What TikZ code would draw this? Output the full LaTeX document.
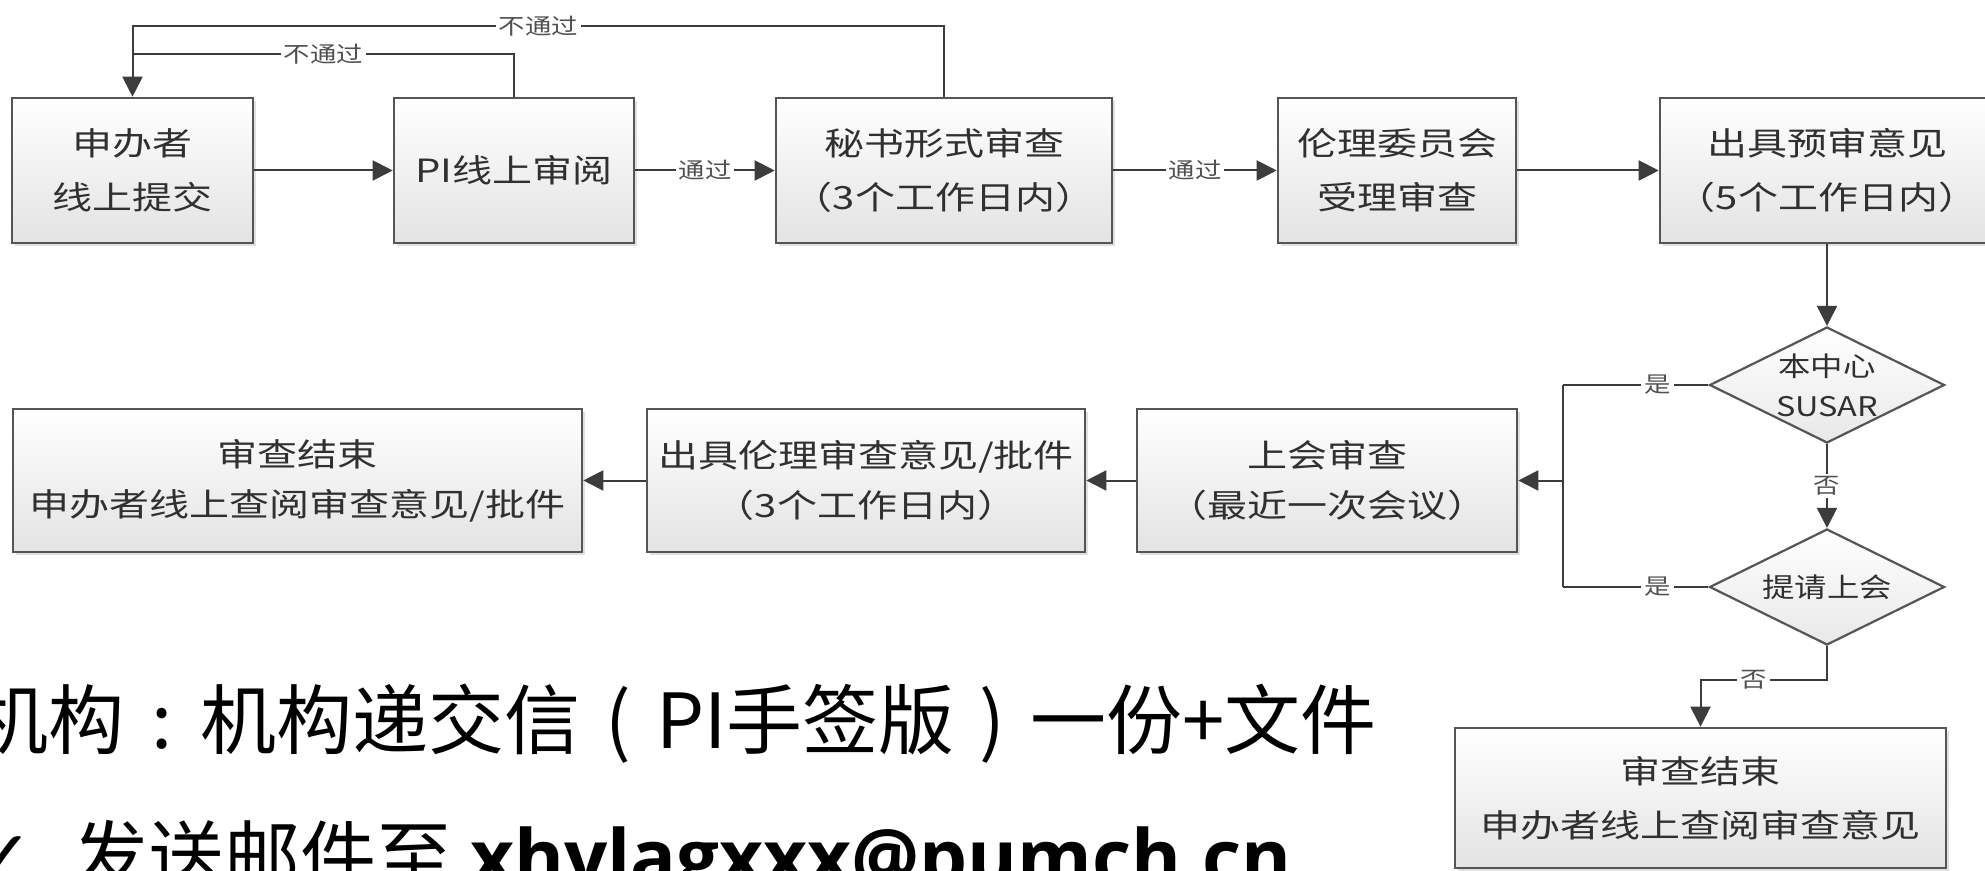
\documentclass[tikz,border=0pt]{standalone}
\usepackage{fontspec}
\usepackage{graphicx}
\usetikzlibrary{arrows.meta,shapes.geometric,shadows,calc}
\newfontfamily\cjk{Noto Sans CJK SC}
\newfontfamily\osans{Open Sans}
\newfontfamily\dejavu{DejaVu Sans}
\newcommand{\hs}[1]{\scalebox{1.25}[1]{#1}}
\newcommand{\ls}[1]{\scalebox{1.2}[1]{#1}}
\newcommand{\cpunct}[1]{\makebox[1em][c]{#1}}
\definecolor{linec}{HTML}{3C3C3C}
\definecolor{boxc}{HTML}{555555}
\definecolor{txtc}{HTML}{303030}
\definecolor{lblc}{HTML}{505050}
\begin{document}
\begin{tikzpicture}[x=0.5pt,y=-0.5pt,
  box/.style={rectangle, draw=boxc, line width=1.3pt, top color=white, bottom color=black!11,
    drop shadow={shadow xshift=1.5pt, shadow yshift=-1.5pt, fill=black!30, opacity=0.4},
    inner sep=0pt, minimum height=72.5pt, align=center, text=txtc,
    font=\cjk\fontsize{16}{27}\selectfont},
  lowbox/.style={box, minimum height=71.5pt, font=\cjk\fontsize{16}{25}\selectfont},
  dia/.style={diamond, draw=boxc, line width=1.1pt, top color=white, bottom color=black!9,
    inner sep=0pt, minimum width=117.5pt, minimum height=58pt, shape aspect=2,
    align=center, text=txtc, font=\cjk\fontsize{13.5}{20}\selectfont},
  arr/.style={draw=linec, line width=1pt, -{Triangle[length=10pt,width=10pt]}},
  ln/.style={draw=linec, line width=1pt},
  lbl/.style={fill=white, inner sep=1.5pt, text=lblc, font=\cjk\fontsize{11}{11}\selectfont},
  big/.style={anchor=base west, inner sep=0pt, text=black, font=\cjk\fontsize{38}{40}\selectfont}
]
\clip (0,0) rectangle (1985,871);
\fill[white] (0,0) rectangle (1985,871);

% top row
\node[box, minimum width=120.5pt] (b1) at (132.5,170.5) {\hs{申办者}\\\hs{线上提交}};
\node[box, minimum width=120pt] (b2) at (514,170.5) {\hs{PI线上审阅}};
\node[box, minimum width=168pt] (b3) at (944,170.5) {\hs{秘书形式审查}\\\hs{（3个工作日内）}};
\node[box, minimum width=119pt] (b4) at (1397,170.5) {\hs{伦理委员会}\\\hs{受理审查}};
\node[box, minimum width=167pt] (b5) at (1827,170.5) {\hs{出具预审意见}\\\hs{（5个工作日内）}};

% decisions
\node[dia] (d1) at (1827,385) {\ls{本中心}\\\ls{SUSAR}};
\node[dia] (d2) at (1827,587) {\ls{提请上会}};

% bottom row
\node[lowbox, minimum width=190pt] (c) at (1327,480.5) {\hs{上会审查}\\\hs{（最近一次会议）}};
\node[lowbox, minimum width=219pt] (bb) at (866,480.5) {\hs{出具伦理审查意见/批件}\\\hs{（3个工作日内）}};
\node[lowbox, minimum width=284.5pt] (a) at (297.5,480.5) {\hs{审查结束}\\\hs{申办者线上查阅审查意见/批件}};
\node[box, minimum width=245.5pt, minimum height=70pt] (d) at (1700.5,798) {\hs{审查结束}\\\hs{申办者线上查阅审查意见}};

% junction coordinates
\coordinate (j1) at (132.5,55);
\coordinate (jt) at (1563,385);
\coordinate (jb) at (1563,587);
\coordinate (jm) at (1563,480.5);

% connectors top row
\draw[arr] (b1) -- (b2);
\draw[arr] (b2) -- node[lbl]{\ls{通过}} (b3);
\draw[arr] (b3) -- node[lbl]{\ls{通过}} (b4);
\draw[arr] (b4) -- (b5);
\draw[arr] (b5.south) -- (d1.north);
\draw[arr] (d1.south) -- node[lbl]{\ls{否}} (d2.north);

% feedback loops
\draw[ln] (b3.north) -- ++(0,-71) -| node[lbl,pos=0.25]{\ls{不通过}} (j1);
\draw[arr] (b2.north) -- ++(0,-43) -| node[lbl,pos=0.25]{\ls{不通过}} (b1.north);

% yes branches
\draw[ln] (d1.west) -- node[lbl,pos=0.35]{\ls{是}} (jt);
\draw[ln] (d2.west) -- node[lbl,pos=0.35]{\ls{是}} (jb);
\draw[ln] (jt) -- (jb);
\draw[arr] (jm) -- (c.east);
\draw[arr] (c) -- (bb);
\draw[arr] (bb) -- (a);

% no branch to end
\draw[arr] (d2.south) -- ++(0,34) -| node[lbl,pos=0.29]{\ls{否}} (d.north);

% bottom texts
\node[big] (t1) at (-28,748) {机构\cpunct{:}机构递交信\cpunct{(}PI手签版\cpunct{)}一份+文件};
\node[anchor=base east, inner sep=0pt, text=black, font=\dejavu\fontsize{38}{40}\selectfont] (chk) at (35,884) {✓};
\node[big] (t2) at (72,884) {发送邮件至};
\node[big, font=\osans\bfseries\fontsize{38}{40}\selectfont] (t3) at (470,884) {xhylagxxx@pumch.cn};
\end{tikzpicture}
\end{document}
